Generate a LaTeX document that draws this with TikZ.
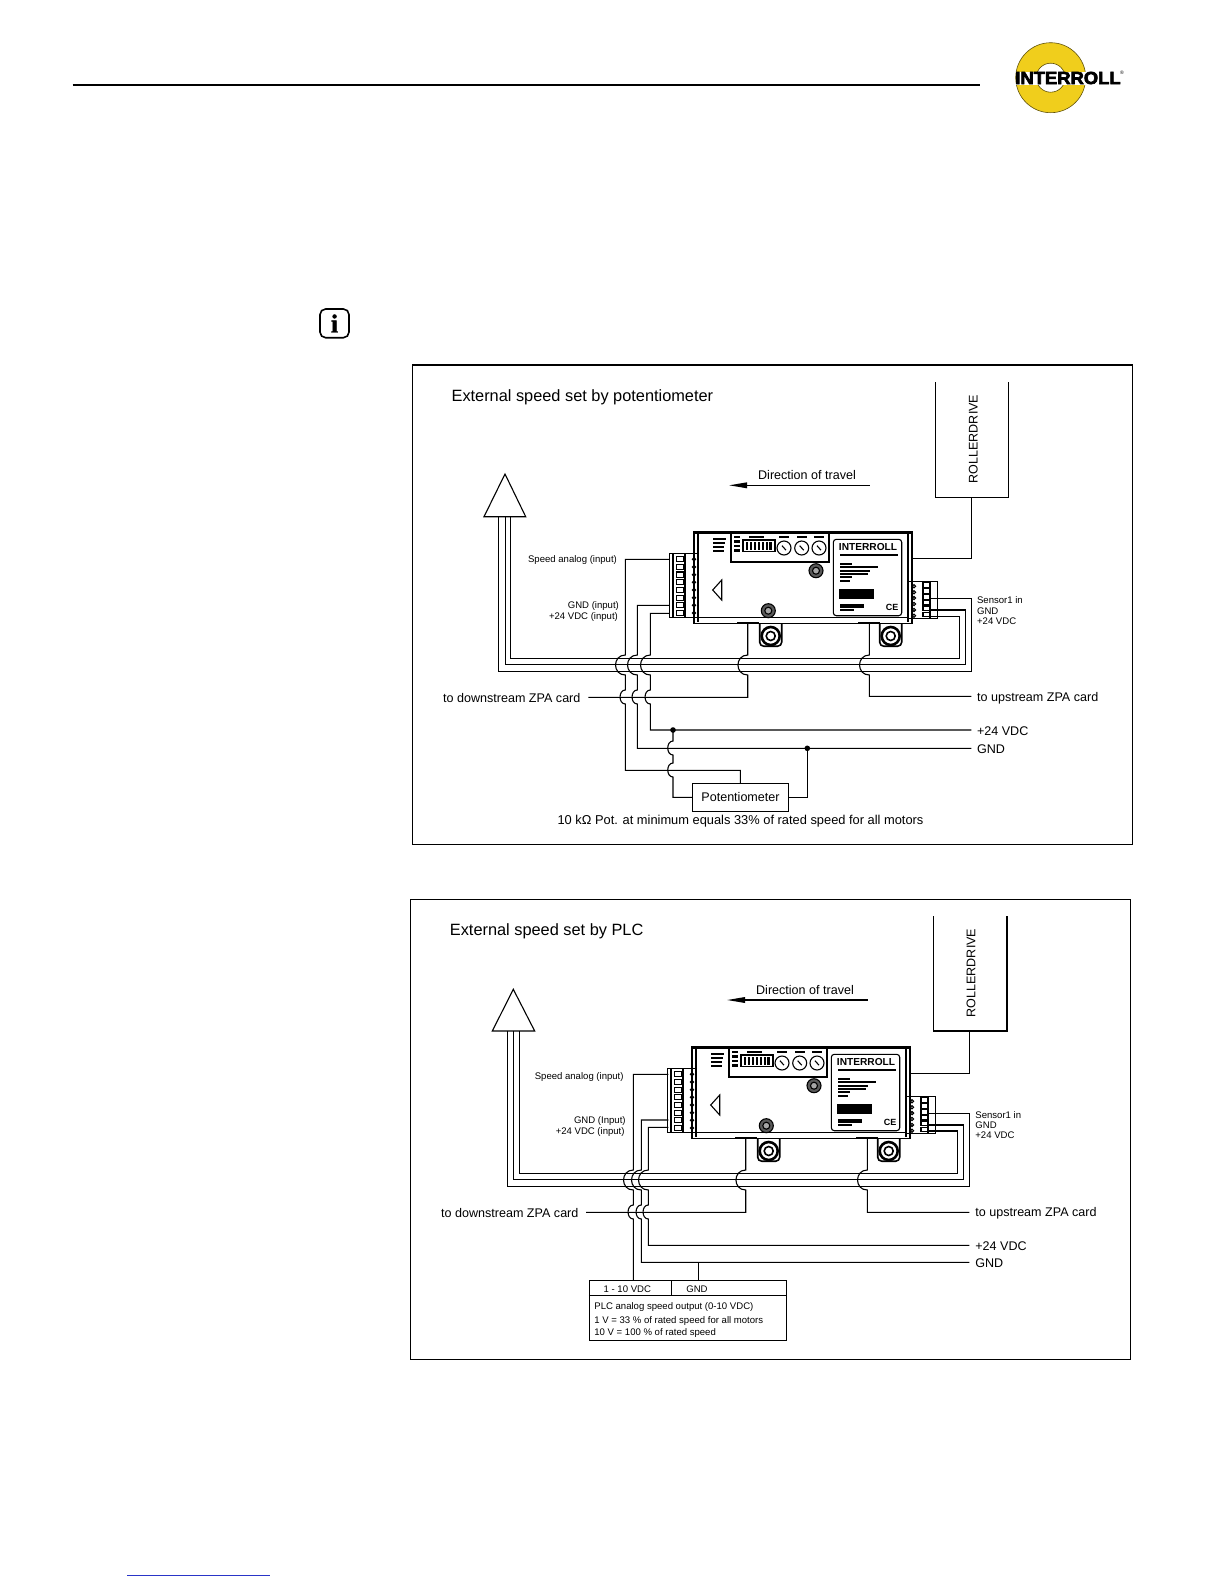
\documentclass[tikz,border=0pt]{standalone}
\usepackage{fontspec}
\setmainfont{Liberation Sans}
\newfontfamily\logofont[BoldFeatures={FakeBold=3.5}]{Liberation Sans}
\newfontfamily\infofont[BoldFeatures={FakeBold=1.5}]{Liberation Serif}
\usetikzlibrary{calc}
\definecolor{logoyellow}{HTML}{F0CE1C}
\definecolor{linkblue}{HTML}{2A35C8}
\tikzset{
  x=0.5bp, y=-0.5bp,
  wire/.style={line width=0.55bp, line join=miter},
  framebox/.style={line width=0.7bp},
  headtxt/.style={font=\fontsize{8.2}{9}\selectfont, inner sep=0pt},
  bigtxt/.style={font=\fontsize{6.3}{7}\selectfont, inner sep=0pt},
  notetxt/.style={font=\fontsize{6.45}{7}\selectfont, inner sep=0pt},
  smalltxt/.style={font=\fontsize{4.8}{6}\selectfont, inner sep=0pt},
  hopbus/.style={to path={.. controls ($(\tikztostart)+(-13,0)$) and ($(\tikztotarget)+(-13,0)$) .. (\tikztotarget)}},
  hopcard/.style={to path={.. controls ($(\tikztostart)+(-7,0)$) and ($(\tikztotarget)+(-7,0)$) .. (\tikztotarget)}},
  cardunit/.pic={
    % housing
    \draw[wire] (0,0) rectangle (218,91.5);
    \draw[line width=1bp] (0,1) -- (218,1);
    \draw[wire] (4,85.6) -- (214,85.6);
    \draw[line width=1bp] (4,1) -- (4,90);
    \draw[line width=1bp] (214,1) -- (214,90);
    \draw[line width=1bp] (43.3,91.5) -- (65.3,91.5);
    \draw[line width=1bp] (164,91.5) -- (186,91.5);
    \draw[wire] (27.7,48.3) -- (18.7,58.3) -- (27.7,68.3) -- cycle;
    % display panel
    \draw[line width=0.8bp] (36.7,0) -- (36.7,30) -- (135,30) -- (135,0);
    \draw[wire] (49,8.3) rectangle (81,20);
    \foreach \i in {0,...,6}
      \fill (52+\i*3.9,10.5) rectangle +(2.4,7.3);
    \foreach \i in {0,...,3}
      \fill (40,4+\i*4.5) rectangle +(6,2.6);
    \foreach \i in {0,...,3}
      \fill (19,6.5+\i*3.9) rectangle +(13-\i*0.8,2);
    \foreach \dx in {90,107.7,125} {
      \draw[wire] (\dx,16.3) circle (7);
      \draw[wire] (\dx-2,14) -- (\dx+2,18.5);
      \fill (\dx-5,4) rectangle +(10,2);
    }
    \fill (55,4) rectangle +(15,2);
    % label plate
    \draw[wire, rounded corners=1.5bp] (139.3,7.6) rectangle (207.7,84);
    \node[inner sep=0pt, font=\fontsize{5.1}{6}\selectfont\bfseries] (plate) at (174,15.6) {INTERROLL};
    \fill (146,22) rectangle (204,24);
    \foreach \i/\w in {0/12,1/38,2/30,3/28,4/12,5/10}
      \fill (146,31+\i*3.4) rectangle +(\w,2);
    \fill (145,57.3) rectangle (180,67.3);
    \fill (146,72) rectangle (170,76);
    \fill (146,77.5) rectangle (160,79);
    \node[inner sep=0pt, font=\fontsize{4.5}{5}\selectfont\bfseries] (ce) at (198,76) {CE};
    % screws
    \foreach \sx/\sy in {122/39,74.3/79} {
      \draw[wire, fill=black!65] (\sx,\sy) circle (7);
      \draw[wire, fill=black!35] (\sx,\sy) circle (3.5);
    }
    % mounting lugs
    \foreach \lx in {76.7,196.7} {
      \draw[line width=0.8bp, rounded corners=2bp] (\lx-11,91.5) -- (\lx-11,114.5) -- (\lx+11,114.5) -- (\lx+11,91.5);
      \draw[line width=1.3bp] (\lx,104.3) circle (9);
      \draw[line width=0.8bp] (\lx,104.3) circle (4.5);
    }
    % left connector
    \draw[wire] (-24.7,21.6) rectangle (4,85.6);
    \draw[wire] (-21,21.6) -- (-21,85.6);
    \draw[wire] (-9,21.6) -- (-9,85.6);
    \foreach \i in {0,...,7} {
      \draw[wire] (-17.3,25+\i*7.67) rectangle +(6.6,5.2);
      \draw[wire] (0,27.6+\i*7.67) circle (1.6);
    }
    % right connector
    \draw[wire] (214,50) rectangle (243.3,86.6);
    \draw[wire] (236,50) -- (236,86.6);
    \foreach \i in {0,...,5} {
      \draw[wire] (229,51+\i*5.9) rectangle +(7,4.6);
      \draw[wire] (220,54.6+\i*5.9) circle (1.6);
    }
  }
}
\begin{document}
\begin{tikzpicture}
  \useasboundingbox (0,0) rectangle (1224,1584);
  % page head
  \draw[line width=0.75bp] (72.7,84.8) -- (980,84.8);
  \fill[logoyellow, draw=black!60!logoyellow, line width=0.3bp, even odd rule] (1050.7,77.7) circle (35) (1050.7,77.7) circle (14.5);
  \fill[white] (1016,71.5) rectangle (1120,84.5);
  \node[inner sep=0pt, font=\logofont\bfseries\fontsize{8.8}{9}\selectfont, xscale=1.05] (logotxt) at (1068,78) {INTERROLL};
  \node[inner sep=0pt, font=\fontsize{2.5}{3}\selectfont] (logomark) at (1122,72.5) {\textregistered};
  \draw[line width=0.8bp, rounded corners=2.8bp] (320,309) rectangle (349,337.7);
  \node[inner sep=0pt, font=\infofont\bfseries\fontsize{13}{14}\selectfont] (infomark) at (334.5,323.5) {i};
  \draw[linkblue, line width=0.4bp] (127,1575) -- (270,1575);

  % upper panel: potentiometer
  \draw[framebox] (412.7,365) rectangle (1132.7,844.5);
  \node[headtxt, anchor=mid west] (title1) at (451.2,396.5) {External speed set by potentiometer};
  \node[bigtxt] (dir1) at (807,474.7) {Direction of travel};
  \draw[wire] (747,485.3) -- (870,485.3);
  \fill (729.3,485.3) -- (747,482.3) -- (747,488.3) -- cycle;
  \draw[wire] (935.7,382.3) -- (935.7,497.3) -- (1008.3,497.3) -- (1008.3,382.3);
  \node[bigtxt, rotate=90] (drive1) at (973.3,439) {ROLLERDRIVE};
  \draw[wire] (505,474) -- (484,516.7) -- (525.7,516.7) -- cycle;
  \pic (card1) at (694,531.7) {cardunit};
  \draw[wire] (971.7,497.3) |- (911.7,558.3);
  % bus
  \draw[wire] (498.3,516.7) |- (971.7,671.3) -- (971.7,598.3) -- (930,598.3);
  \draw[wire] (505.7,516.7) |- (965.3,664.3) -- (965.3,610) -- (930,610);
  \draw[wire] (510.3,516.7) |- (959.3,658.3) -- (959.3,616.3) -- (930,616.3);
  % input wires
  \draw[wire] (669.3,559.3) -| (625.3,655) to[hopbus] (625.3,675) -- (625.3,690) to[hopcard] (625.3,704) |- (740.3,770.3) -- (740.3,783.3);
  \draw[wire] (669.3,605.3) -| (637.3,655) to[hopbus] (637.3,675) -- (637.3,690) to[hopcard] (637.3,704) |- (971.3,748.3);
  \draw[wire] (669.3,613.3) -| (650.3,655) to[hopbus] (650.3,675) -- (650.3,690) to[hopcard] (650.3,704) |- (971.3,730);
  % zpa cards
  \draw[wire] (747.7,623.2) -- (747.7,655) to[hopbus] (747.7,675) |- (588.3,697.3);
  \draw[wire] (869.3,623.2) -- (869.3,655) to[hopbus] (869.3,675) |- (971.3,696.3);
  % potentiometer
  \node[draw, line width=0.55bp, inner sep=0pt, minimum width=48.2bp, minimum height=14bp, bigtxt] (pot) at (740.5,797.3) {Potentiometer};
  \draw[wire] (673,730) -- (673,741) to[hopcard] (673,755) -- (673,763) to[hopcard] (673,777) |- (pot.west);
  \draw[wire] (pot.east) -| (807.3,748.3);
  \fill (673,730) circle (2.8);
  \fill (807.3,748.3) circle (2.8);
  % labels
  \node[smalltxt, anchor=mid east] (sp1) at (617.3,557.3) {Speed analog (input)};
  \node[smalltxt, anchor=mid east] (gi1) at (619.3,603.3) {GND (input)};
  \node[smalltxt, anchor=mid east] (vi1) at (618.3,614.7) {+24 VDC (input)};
  \node[smalltxt, anchor=mid west] (sa1) at (976.7,598.5) {Sensor1 in};
  \node[smalltxt, anchor=mid west] (sb1) at (976.7,608.8) {GND};
  \node[smalltxt, anchor=mid west] (sc1) at (976.7,618.8) {+24 VDC};
  \node[bigtxt, anchor=mid east] (down1) at (580.8,697) {to downstream ZPA card};
  \node[bigtxt, anchor=mid west] (up1) at (976.7,696) {to upstream ZPA card};
  \node[bigtxt, anchor=mid west] (v1) at (976.7,730) {+24 VDC};
  \node[bigtxt, anchor=mid west] (g1) at (976.7,748) {GND};
  \node[notetxt] (note1) at (740.5,821.5) {10 kΩ Pot. at minimum equals 33\% of rated speed for all motors};

  % lower panel: plc
  \draw[framebox] (410.3,899.3) rectangle (1130.7,1359.6);
  \node[headtxt, anchor=mid west] (title2) at (449.5,930) {External speed set by PLC};
  \node[bigtxt] (dir2) at (805,990) {Direction of travel};
  \draw[wire] (745,1000) -- (868,1000);
  \fill (727.3,1000) -- (745,997) -- (745,1003) -- cycle;
  \draw[wire] (933.4,916) -- (933.4,1031) -- (1007,1031) -- (1007,916);
  \node[bigtxt, rotate=90] (drive2) at (971,973) {ROLLERDRIVE};
  \draw[wire] (513.3,989.3) -- (492.3,1031) -- (534.7,1031) -- cycle;
  \pic (card2) at (692,1046.7) {cardunit};
  \draw[wire] (969.3,1031) |- (909.7,1073.3);
  % bus
  \draw[wire] (507.3,1031) |- (969.3,1186.3) -- (969.3,1113.3) -- (928,1113.3);
  \draw[wire] (513.3,1031) |- (963.3,1179.7) -- (963.3,1125) -- (928,1125);
  \draw[wire] (519.3,1031) |- (957.3,1173.7) -- (957.3,1131) -- (928,1131);
  % plc box
  \node[draw, line width=0.55bp, inner sep=0pt, minimum width=98.4bp, minimum height=29.9bp] (plc) at (687.7,1310.5) {};
  \draw[wire] (plc.west |- 0,1295.3) -- (plc.east |- 0,1295.3);
  \draw[wire] (671.3,1280.7) -- (671.3,1295.3);
  \node[smalltxt] (plca) at (627.3,1288.7) {1 - 10 VDC};
  \node[smalltxt] (plcb) at (697,1288.7) {GND};
  \node[smalltxt, anchor=mid west] (plcc) at (594,1304.3) {PLC analog speed output (0-10 VDC)};
  \node[smalltxt, anchor=mid west] (plcd) at (594,1318.7) {1 V = 33 \% of rated speed for all motors};
  \node[smalltxt, anchor=mid west] (plce) at (594,1330.7) {10 V = 100 \% of rated speed};
  % input wires
  \draw[wire] (668.3,1074.3) -| (633.3,1170) to[hopbus] (633.3,1190) -- (633.3,1205) to[hopcard] (633.3,1219) -- (633.3,1280.7);
  \draw[wire] (668.3,1120) -| (641.3,1170) to[hopbus] (641.3,1190) -- (641.3,1205) to[hopcard] (641.3,1219) |- (969.3,1262.3);
  \draw[wire] (668.3,1127.3) -| (648.3,1170) to[hopbus] (648.3,1190) -- (648.3,1205) to[hopcard] (648.3,1219) |- (969.3,1245.3);
  \draw[wire] (698.3,1262.3) -- (698.3,1280.7);
  % zpa cards
  \draw[wire] (745.7,1138.2) -- (745.7,1170) to[hopbus] (745.7,1190) |- (586,1212.3);
  \draw[wire] (867.3,1138.2) -- (867.3,1170) to[hopbus] (867.3,1190) |- (969.3,1212.3);
  % labels
  \node[smalltxt, anchor=mid east] (sp2) at (624,1074) {Speed analog (input)};
  \node[smalltxt, anchor=mid east] (gi2) at (626,1118) {GND (Input)};
  \node[smalltxt, anchor=mid east] (vi2) at (625,1129.7) {+24 VDC (input)};
  \node[smalltxt, anchor=mid west] (sa2) at (975,1112.8) {Sensor1 in};
  \node[smalltxt, anchor=mid west] (sb2) at (975,1123.5) {GND};
  \node[smalltxt, anchor=mid west] (sc2) at (975,1133.5) {+24 VDC};
  \node[bigtxt, anchor=mid east] (down2) at (578.8,1212) {to downstream ZPA card};
  \node[bigtxt, anchor=mid west] (up2) at (975,1211) {to upstream ZPA card};
  \node[bigtxt, anchor=mid west] (v2) at (975,1245) {+24 VDC};
  \node[bigtxt, anchor=mid west] (g2) at (975,1262.5) {GND};
\end{tikzpicture}
\end{document}
